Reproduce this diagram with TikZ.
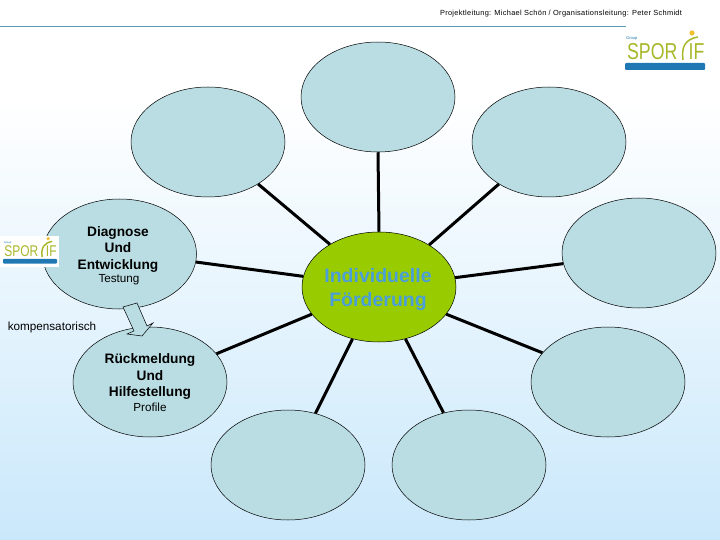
\documentclass[tikz,border=0pt]{standalone}
\usepackage{fontspec}
\setmainfont{Liberation Sans}
\newfontfamily\titlefont[LetterSpace=4.2]{Liberation Sans}
\usetikzlibrary{shapes.geometric}
\definecolor{bubble}{HTML}{B9DDE3}
\definecolor{bgtop}{HTML}{FFFFFF}
\definecolor{bgbot}{HTML}{CAE8FB}
\definecolor{hub}{HTML}{99CC00}
\definecolor{hubtext}{HTML}{4A9FD8}
\definecolor{logoblue}{HTML}{1F78B4}
\definecolor{logogreen}{HTML}{A8B82A}
\definecolor{logoyellow}{HTML}{F0C030}
\definecolor{rulecol}{HTML}{5B9BB0}
\tikzset{x=1pt,y=-1pt,
 bubblenode/.style={ellipse,draw=black,line width=0.5pt,fill=bubble,minimum width=154pt,minimum height=110pt,inner sep=0pt},
 hubnode/.style={ellipse,draw=black,line width=0.5pt,fill=hub,minimum width=154pt,minimum height=110pt,inner sep=0pt},
 spoke/.style={line width=3pt,black},
 head/.style={font=\fontsize{13.7}{16.5}\bfseries\selectfont,align=center,text=black,inner sep=0pt},
 sub/.style={font=\fontsize{11.7}{14}\selectfont,text=black,inner sep=0pt},
 logotext/.style={text=logogreen,inner sep=0pt,transform shape,xscale=0.77},
 sporiflogo/.pic={
   \node[logotext,font=\fontsize{23}{23}\selectfont,anchor=west] (-spor) at (2,21.5) {SPOR};
   \node[logotext,font=\fontsize{23}{23}\selectfont,anchor=west] (-if) at (63.5,21.5) {IF};
   \node[inner sep=0pt,transform shape,font=\fontsize{4}{4}\selectfont,text=logoblue,anchor=west] (-group) at (1,9) {Group};
   \fill[logoyellow] (67,3) circle (2.6);
   \draw[logogreen,line width=1.5pt] (58,30) .. controls (56,16) and (61,9) .. (73,7);
   \fill[logoblue,rounded corners=1pt] (0,33) rectangle (80,40);
 },
}
\begin{document}
\begin{tikzpicture}
\useasboundingbox (0,0) rectangle (720,540);
\fill[bgtop] (0,0) rectangle (720,100);
\shade[top color=bgtop,bottom color=bgbot] (0,100) rectangle (720,540);
\node[font=\fontsize{7.4}{9}\titlefont,inner sep=0pt] (title) at (561,14) {Projektleitung: Michael Schön / Organisationsleitung: Peter Schmidt};
\coordinate (ruleL) at (0,26);
\coordinate (ruleR) at (626,26);
\draw[rulecol,line width=0.8pt] (ruleL) -- (ruleR);
% bubbles
\node[bubblenode] (n) at (378,97) {};
\node[bubblenode] (nw) at (208,142) {};
\node[bubblenode] (ne) at (549,142) {};
\node[bubblenode] (e) at (639,253) {};
\node[bubblenode] (se) at (608,382) {};
\node[bubblenode] (sse) at (469,465) {};
\node[bubblenode] (ssw) at (288,465) {};
\node[bubblenode] (sw) at (150,382) {};
\node[bubblenode] (w) at (119.5,254) {};
\node[hubnode] (hub) at (379,287) {};
% spokes
\draw[spoke] (n.-90) -- (hub.90);
\draw[spoke] (nw.-40) -- (hub.139.4);
\draw[spoke] (ne.-140.5) -- (hub.40.6);
\draw[spoke] (e.-172.5) -- (hub.7.5);
\draw[spoke] (se.156.3) -- (hub.-22.2);
\draw[spoke] (sse.116.6) -- (hub.-63.4);
\draw[spoke] (ssw.62.6) -- (hub.-117.4);
\draw[spoke] (sw.23.4) -- (hub.-158);
\draw[spoke] (w.-6.8) -- (hub.172.5);
% hub label
\node[text=hubtext,font=\fontsize{19.5}{24}\bfseries\selectfont,align=center,inner sep=0pt] (hublabel) at (378,289.5) {Individuelle\\Förderung};
% left labels
\node[head] (diag) at (118,249) {Diagnose\\Und\\Entwicklung};
\node[sub] (test) at (119,280) {Testung};
\node[head] (rueck) at (150,376.5) {Rückmeldung\\Und\\Hilfestellung};
\node[sub] (prof) at (150,407) {Profile};
\node[sub] (komp) at (52,327) {kompensatorisch};
% block arrow between the two filled bubbles
\path[draw=black,line width=0.5pt,fill=bubble] (123,307) -- (137,303) -- (147,326) -- (153,323) -- (142,336) -- (127,334) -- (134,331) -- cycle;
% logos
\pic (logoa) [transform shape] at (625,30) {sporiflogo};
\fill[white] (0,236) rectangle (59,267);
\begin{scope}[shift={(3,236.7)},scale=0.675]
\pic (logob) [transform shape] at (0,0) {sporiflogo};
\end{scope}
\end{tikzpicture}
\end{document}
